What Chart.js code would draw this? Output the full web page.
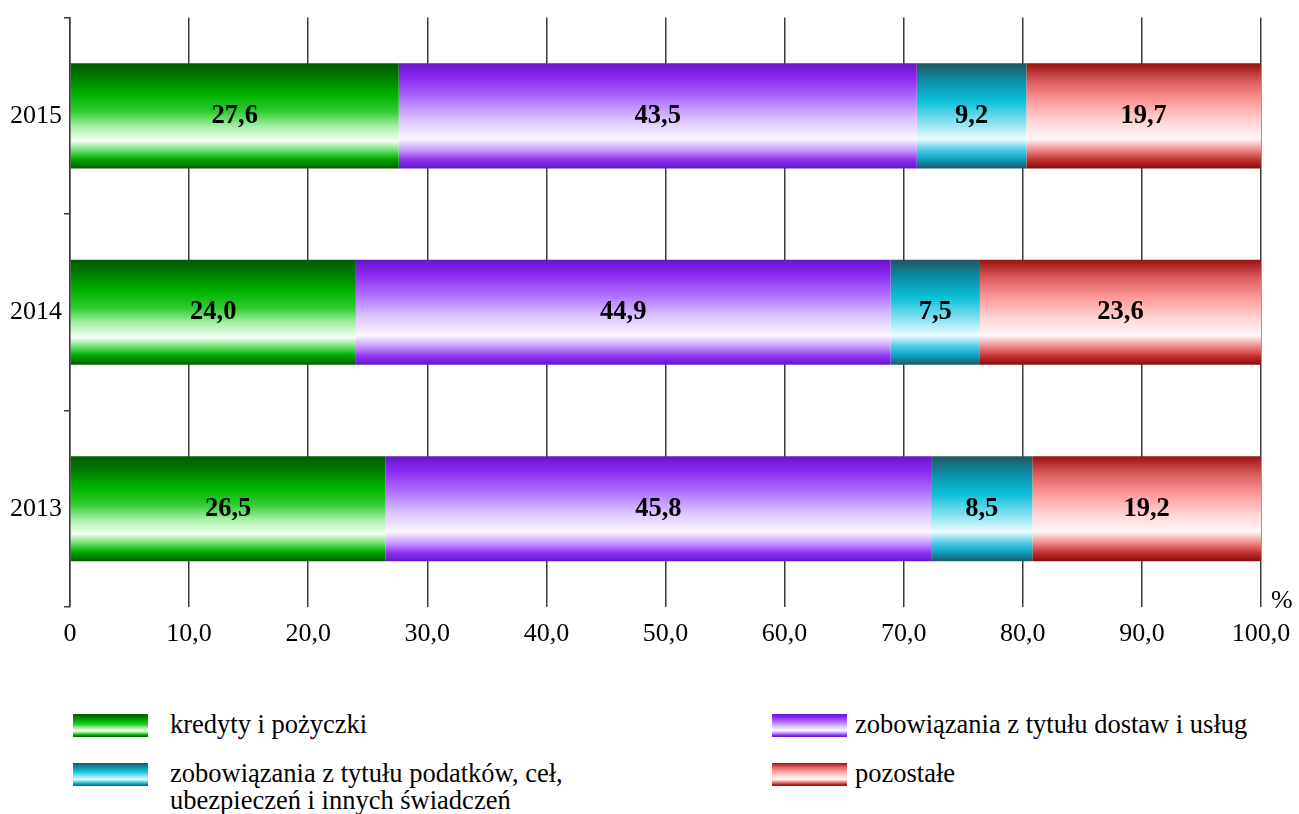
<!DOCTYPE html>
<html>
<head>
<meta charset="utf-8">
<script src="https://cdn.jsdelivr.net/npm/chart.js@4/dist/chart.umd.min.js"></script>
<style>
  body { margin:0; background:#fff; font-family:"Liberation Serif", "Times New Roman", serif; }
  #wrap { position:absolute; left:0; top:0; width:1299px; height:680px; }
  .lg { position:absolute; font-size:26.5px; color:#000; line-height:27px; white-space:nowrap; }
  .sw { position:absolute; width:75px; height:23px; }
</style>
</head>
<body>
<div id="wrap"><canvas id="c"></canvas></div>
<div id="legend"></div>
<script>
/* data */
const years = ['2015', '2014', '2013'];
const kredyty = [27.6, 24.0, 26.5];
const dostawy = [43.5, 44.9, 45.8];
const podatki = [9.2, 7.5, 8.5];
const pozostale = [19.7, 23.6, 19.2];
const seriesNames = [
  'kredyty i pożyczki',
  'zobowiązania z tytułu dostaw i usług',
  'zobowiązania z tytułu podatków, ceł,\nubezpieczeń i innych świadczeń',
  'pozostałe'
];
const xTicks = [0, 10, 20, 30, 40, 50, 60, 70, 80, 90, 100];

/* vertical gradient stops per series (top -> bottom of bar) */
const stops = [
  [[0,'#005c00'],[0.12,'#007800'],[0.3,'#00b400'],[0.46,'#30cc30'],[0.6,'#a4f0a4'],[0.74,'#f4fff4'],[0.83,'#6ae06a'],[0.91,'#00ac00'],[1,'#005c00']],
  [[0,'#6418c8'],[0.14,'#8c28f0'],[0.34,'#b070ff'],[0.54,'#dcc4ff'],[0.72,'#fbf6ff'],[0.83,'#c496ff'],[0.92,'#9030f0'],[1,'#6418c8']],
  [[0,'#22565f'],[0.16,'#0a8ca4'],[0.36,'#0cc0d8'],[0.56,'#84e2f2'],[0.72,'#ecfbff'],[0.83,'#46cae2'],[0.92,'#0e9cbc'],[1,'#1c5666']],
  [[0,'#9a1010'],[0.16,'#d85858'],[0.36,'#ff9a9a'],[0.56,'#ffd6d6'],[0.72,'#fff6f8'],[0.83,'#f08484'],[0.92,'#c03030'],[1,'#8a0a0a']]
];
const flat = ['#00a000', '#9a40f0', '#10b0c8', '#e07070'];

const BAR_PCT = 0.535;

function barGradient(idx) {
  return function(ctx) {
    const chart = ctx.chart;
    const y = chart.scales.y;
    if (!y || ctx.type !== 'data') return flat[idx];
    const band = (y.bottom - y.top) / years.length;
    const cy = y.getPixelForValue(ctx.dataIndex);
    const h = band * BAR_PCT;
    if (!isFinite(cy) || !isFinite(h) || h <= 0) return flat[idx];
    const g = chart.ctx.createLinearGradient(0, cy - h / 2, 0, cy + h / 2);
    stops[idx].forEach(s => g.addColorStop(s[0], s[1]));
    return g;
  };
}

function fmt(v) { return v === 0 ? '0' : v.toFixed(1).replace('.', ','); }

const labelPlugin = {
  id: 'barLabels',
  afterDatasetsDraw(chart) {
    const c = chart.ctx;
    c.save();
    c.font = 'bold 26.5px "Liberation Serif"';
    c.fillStyle = '#000';
    c.textAlign = 'center';
    c.textBaseline = 'middle';
    chart.data.datasets.forEach((ds, i) => {
      chart.getDatasetMeta(i).data.forEach((bar, j) => {
        const p = bar.getProps(['x', 'base', 'y'], true);
        c.fillText(fmt(ds.data[j]), (p.x + p.base) / 2, p.y);
      });
    });
    // percent sign
    c.font = '26px "Liberation Serif"';
    c.textAlign = 'left';
    c.textBaseline = 'alphabetic';
    c.fillText('%', chart.chartArea.right + 10, chart.chartArea.bottom + 1);
    c.restore();
  }
};

const datasets = [kredyty, dostawy, podatki, pozostale].map((d, i) => ({
  label: seriesNames[i],
  data: d,
  backgroundColor: barGradient(i),
  borderWidth: 0,
  categoryPercentage: 1,
  barPercentage: BAR_PCT
}));

/* legend below the chart */
const legendPos = [
  { x: 73, y: 714 },
  { x: 772, y: 714 },
  { x: 73, y: 763 },
  { x: 772, y: 763 }
];
const legendTextX = [170, 855, 170, 855];
const legendEl = document.getElementById('legend');
seriesNames.forEach((name, i) => {
  const sw = document.createElement('div');
  sw.className = 'sw';
  sw.style.left = legendPos[i].x + 'px';
  sw.style.top = legendPos[i].y + 'px';
  sw.style.background = 'linear-gradient(to bottom,' + stops[i].map(s => s[1] + ' ' + (s[0] * 100) + '%').join(',') + ')';
  legendEl.appendChild(sw);
  const t = document.createElement('div');
  t.className = 'lg';
  t.style.left = legendTextX[i] + 'px';
  t.style.top = (legendPos[i].y - 3) + 'px';
  t.innerHTML = name.replace('\n', '<br>');
  legendEl.appendChild(t);
});

new Chart(document.getElementById('c'), {
  type: 'bar',
  data: { labels: years, datasets },
  options: {
    indexAxis: 'y',
    responsive: true,
    maintainAspectRatio: false,
    animation: false,
    layout: { padding: { top: 16, right: 38, left: 0, bottom: 0 } },
    plugins: { legend: { display: false }, tooltip: { enabled: false } },
    scales: {
      x: {
        stacked: true,
        min: 0, max: 100,
        afterBuildTicks: s => { s.ticks = xTicks.map(v => ({ value: v })); },
        afterFit: s => { s.height = 73; s.paddingLeft = 0; s.paddingRight = 0; },
        border: { display: false },
        grid: { color: '#3a3a3a', lineWidth: 1.5, drawTicks: false },
        ticks: {
          padding: 12,
          color: '#000',
          font: { family: 'Liberation Serif', size: 26 },
          callback: v => fmt(v)
        }
      },
      y: {
        stacked: true,
        afterFit: s => { s.width = 70; },
        border: { display: true, color: '#3a3a3a', width: 1.5 },
        grid: { offset: true, drawOnChartArea: false, drawTicks: true, tickLength: 6, color: '#3a3a3a', lineWidth: 1.5 },
        ticks: {
          padding: 2,
          color: '#000',
          font: { family: 'Liberation Serif', size: 26 }
        }
      }
    }
  },
  plugins: [labelPlugin]
});
</script>
</body>
</html>
